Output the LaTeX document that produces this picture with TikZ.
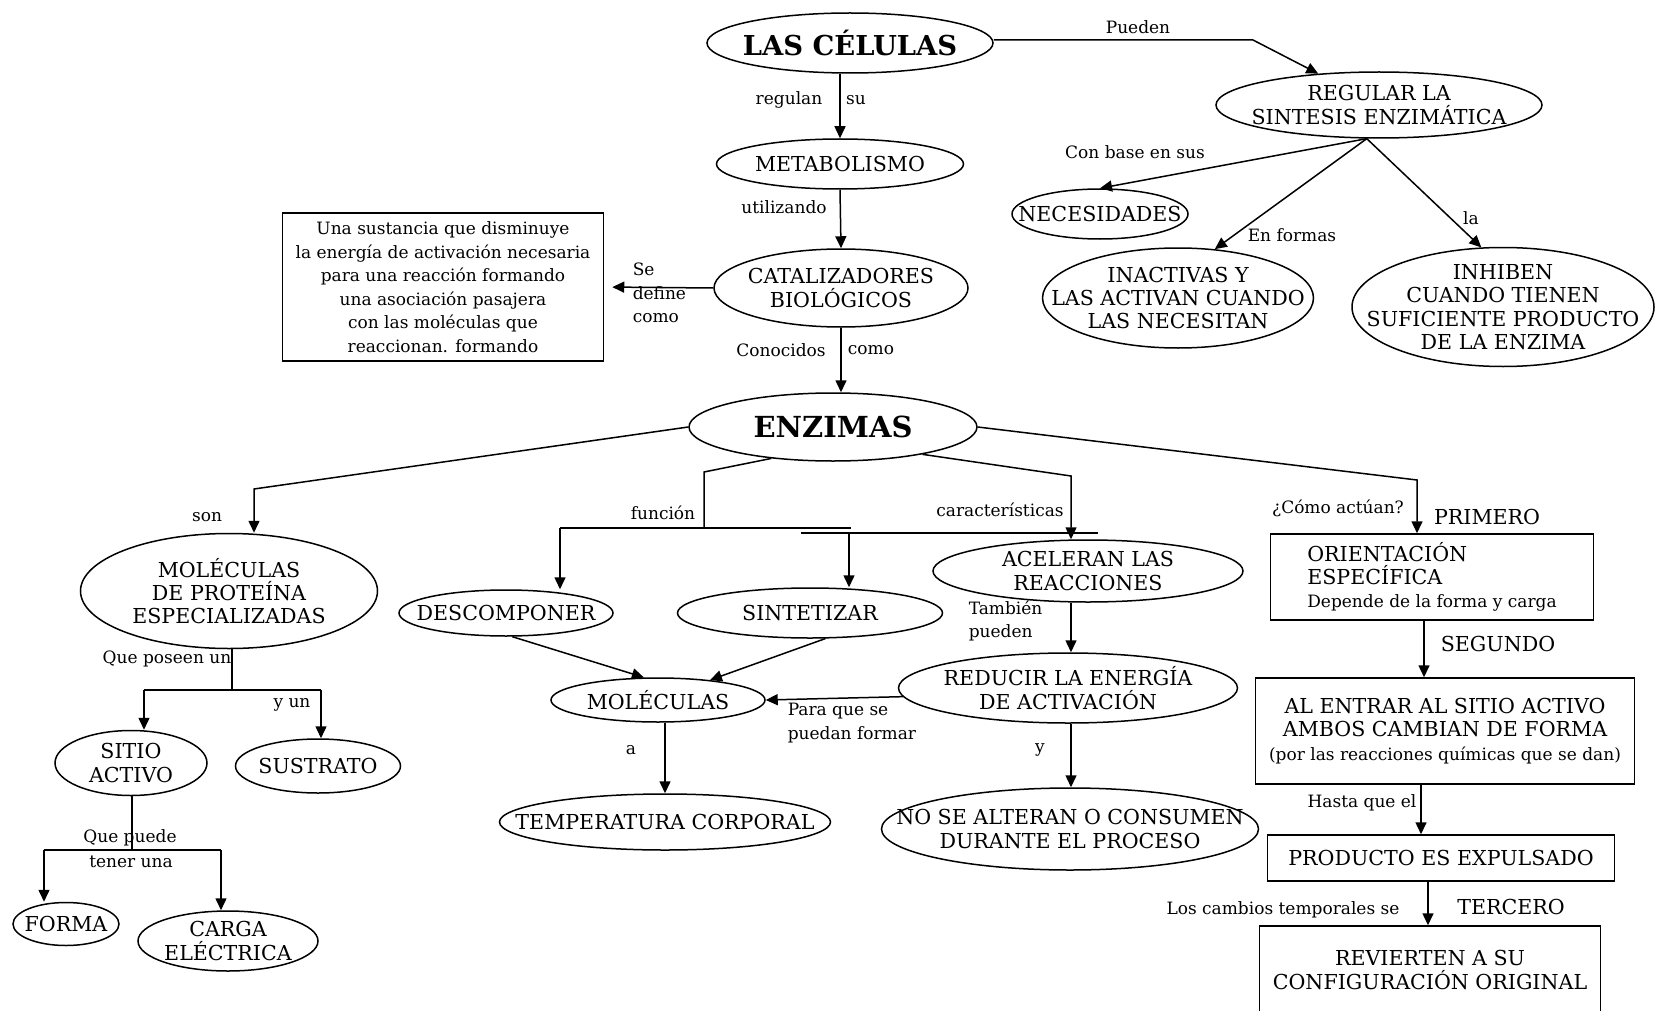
\documentclass[tikz,border=0pt]{standalone}
\usepackage{fontspec}
\setmainfont{DejaVu Serif}
\usetikzlibrary{arrows.meta,shapes.geometric}

\newcommand\capsfont{\fontsize{20.6}{23.3}\selectfont}
\newcommand\lblfont{\fontsize{17}{23.5}\selectfont}
\newcommand\titlefont{\fontsize{27.4}{30}\selectfont\bfseries}

\begin{document}
\begin{tikzpicture}[x=1pt,y=-1pt,line width=1.5pt,
    bubble/.style={ellipse,draw,inner sep=-50pt,align=center,font=\capsfont},
    box/.style={rectangle,draw,inner sep=0pt,align=center,font=\capsfont},
    sz/.style 2 args={minimum width=#1pt,minimum height=#2pt},
    lbl/.style={inner sep=0pt,font=\lblfont},
    tag/.style={inner sep=0pt,font=\capsfont},
    arr/.style={-{Triangle[length=12pt,width=11pt]}}]
    \clip (0,0) rectangle (1656,1011);

    % upper chain
    \node[bubble,font=\titlefont,sz={286}{60}] (cel) at (850,43) {LAS CÉLULAS};
    \node[bubble,sz={247}{50}] (met) at (840,164) {METABOLISMO};
    \node[bubble,sz={254}{78}] (cat) at (841,288) {CATALIZADORES\\BIOLÓGICOS};
    \node[box,font=\lblfont,sz={321}{148}] (def) at (443,287) {Una sustancia que disminuye\\la energía de activación necesaria\\para una reacción formando\\una asociación pasajera\\con las moléculas que\\reaccionan. formando};
    \node[bubble,font=\titlefont\fontsize{29}{30}\selectfont,sz={288}{68}] (enz) at (833,427) {ENZIMAS};

    % regulation
    \node[bubble,sz={326}{66}] (reg) at (1379,105) {REGULAR LA\\SINTESIS ENZIMÁTICA};
    \node[bubble,sz={176}{50}] (nec) at (1100,214) {NECESIDADES};
    \node[bubble,sz={271}{100}] (inact) at (1178,298) {INACTIVAS Y\\LAS ACTIVAN CUANDO\\LAS NECESITAN};
    \node[bubble,sz={302}{119}] (inhib) at (1503,307) {INHIBEN\\CUANDO TIENEN\\SUFICIENTE PRODUCTO\\DE LA ENZIMA};

    % left branch
    \node[bubble,sz={297}{115}] (molprot) at (229,591) {MOLÉCULAS\\DE PROTEÍNA\\ESPECIALIZADAS};
    \node[bubble,sz={152}{65}] (sitio) at (131,763) {SITIO\\ACTIVO};
    \node[bubble,sz={165}{54}] (sust) at (318,766) {SUSTRATO};
    \node[bubble,sz={106}{43}] (forma) at (66,924) {FORMA};
    \node[bubble,sz={180}{60}] (carga) at (228,941) {CARGA\\ELÉCTRICA};

    % middle
    \node[bubble,sz={214}{46}] (desc) at (506,613) {DESCOMPONER};
    \node[bubble,sz={265}{50}] (sint) at (810,613) {SINTETIZAR};
    \node[bubble,sz={214}{44}] (mol) at (658,700) {MOLÉCULAS};
    \node[bubble,sz={331}{56}] (temp) at (665,822) {TEMPERATURA CORPORAL};
    \node[bubble,sz={310}{62}] (acel) at (1088,571) {ACELERAN LAS\\REACCIONES};
    \node[bubble,sz={339}{70}] (red) at (1068,688) {REDUCIR LA ENERGÍA\\DE ACTIVACIÓN};
    \node[bubble,sz={377}{82}] (nose) at (1070,829) {NO SE ALTERAN O CONSUMEN\\DURANTE EL PROCESO};

    % how they act
    \node[box,align=left,sz={323}{86}] (ornt) at (1432,577) {ORIENTACIÓN\\ESPECÍFICA\\\lblfont Depende de la forma y carga};
    \node[box,sz={379}{106}] (alent) at (1445,731) {AL ENTRAR AL SITIO ACTIVO\\AMBOS CAMBIAN DE FORMA\\\lblfont (por las reacciones químicas que se dan)};
    \node[box,sz={347}{46}] (prod) at (1441,858) {PRODUCTO ES EXPULSADO};
    \node[box,sz={341}{88}] (rev) at (1430,970) {REVIERTEN A SU\\CONFIGURACIÓN ORIGINAL};

    % elbows and bars
    \coordinate (pu) at (1253,40);
    \coordinate (son) at (254,489);
    \coordinate (mp) at (232,690);
    \coordinate (mpL) at (144,690);
    \coordinate (mpR) at (321,690);
    \coordinate (st) at (132,850);
    \coordinate (stL) at (44,850);
    \coordinate (stR) at (221,850);
    \coordinate (fn) at (704,472);
    \coordinate (fnL) at (560,528);
    \coordinate (fnR) at (851,528);
    \coordinate (crL) at (801,533);
    \coordinate (crR) at (1098,533);
    \coordinate (crS) at (849,533);
    \coordinate (car) at (1071,476);
    \coordinate (como) at (1417,480);
    \coordinate (k1) at (1424,0);
    \coordinate (k2) at (1421,0);
    \coordinate (k3) at (1428,0);

    \draw[arr] (met.north |- cel.south) -- (met.north);
    \draw[arr] (met.south) -- (cat.north);
    \draw[arr] (cat.south) -- (cat.south |- enz.north);
    \draw[arr,shorten >=8pt] (cat.west) -- (def.east);
    \draw[arr] (cel.east |- pu) -- (pu) -- (reg);
    \draw[arr] (reg.250) -- (nec.north);
    \draw[arr] (reg.250) -- (inact.53);
    \draw[arr] (reg.250) -- (inhib.110);

    \draw[arr] (enz.west) -- (son) -- (son |- molprot.north);
    \draw (mp |- molprot.south) -- (mp);
    \draw (mpL) -- (mpR);
    \draw[arr] (mpL) -- (mpL |- sitio.north);
    \draw[arr] (mpR) -- (mpR |- sust.north);
    \draw (st |- sitio.south) -- (st);
    \draw (stL) -- (stR);
    \draw[arr] (stL) -- (stL |- forma.north);
    \draw[arr] (stR) -- (stR |- carga.north);

    \draw (enz.207) -- (fn) -- (fn |- fnL);
    \draw (fnL) -- (fnR);
    \draw (crL) -- (crR);
    \draw[arr] (fnL) -- (fnL |- desc.north);
    \draw[arr] (crS) -- (crS |- sint.north);
    \draw[arr] (desc.-75) -- (mol.122);
    \draw[arr] (sint.-59) -- (mol.21);
    \draw[arr] (temp.north |- mol.south) -- (temp.north);
    \draw[arr] (enz.343) -- (car) -- (car |- acel.north);
    \draw[arr] (car |- acel.south) -- (car |- red.north);
    \draw[arr] (car |- red.south) -- (car |- nose.north);
    \draw[arr] (red.183) -- (mol.east);

    \draw[arr] (enz.east) -- (como) -- (como |- ornt.north);
    \draw[arr] (k1 |- ornt.south) -- (k1 |- alent.north);
    \draw[arr] (k2 |- alent.south) -- (k2 |- prod.north);
    \draw[arr] (k3 |- prod.south) -- (k3 |- rev.north);

    % link words
    \node[lbl] (tPueden) at (1138,27) {Pueden};
    \node[lbl] (tRegulan) at (789,100) {regulan};
    \node[lbl] (tSu) at (856,100) {su};
    \node[lbl] (tUtil) at (784,207) {utilizando};
    \node[lbl,align=left,anchor=west] (tDefine) at (632,293) {Se\\define\\como};
    \node[lbl] (tConoc) at (781,350) {Conocidos};
    \node[lbl] (tComo) at (871,350) {como};
    \node[lbl] (tBase) at (1135,152) {Con base en sus};
    \node[lbl] (tFormas) at (1292,235) {En formas};
    \node[lbl] (tLa) at (1471,218) {la};
    \node[lbl] (tSon) at (207,517) {son};
    \node[lbl] (tPoseen) at (167,659) {Que poseen un};
    \node[lbl] (tYun) at (292,705) {y un};
    \node[lbl] (tPuede) at (130,838) {Que puede};
    \node[lbl] (tTener) at (131,862) {tener una};
    \node[lbl] (tFuncion) at (663,513) {función};
    \node[lbl] (tCaract) at (1000,510) {características};
    \node[lbl] (tA) at (631,750) {a};
    \node[lbl,align=left,anchor=west] (tPara) at (787,723) {Para que se\\puedan formar};
    \node[lbl,align=left,anchor=west] (tTambien) at (968,621) {También\\pueden};
    \node[lbl] (tY) at (1040,750) {y};
    \node[lbl] (tActuan) at (1338,508) {¿Cómo actúan?};
    \node[tag] (tPrimero) at (1487,517) {PRIMERO};
    \node[tag] (tSegundo) at (1498,644) {SEGUNDO};
    \node[lbl] (tHasta) at (1362,803) {Hasta que el};
    \node[lbl] (tCambios) at (1283,910) {Los cambios temporales se};
    \node[tag] (tTercero) at (1511,907) {TERCERO};
\end{tikzpicture}
\end{document}
